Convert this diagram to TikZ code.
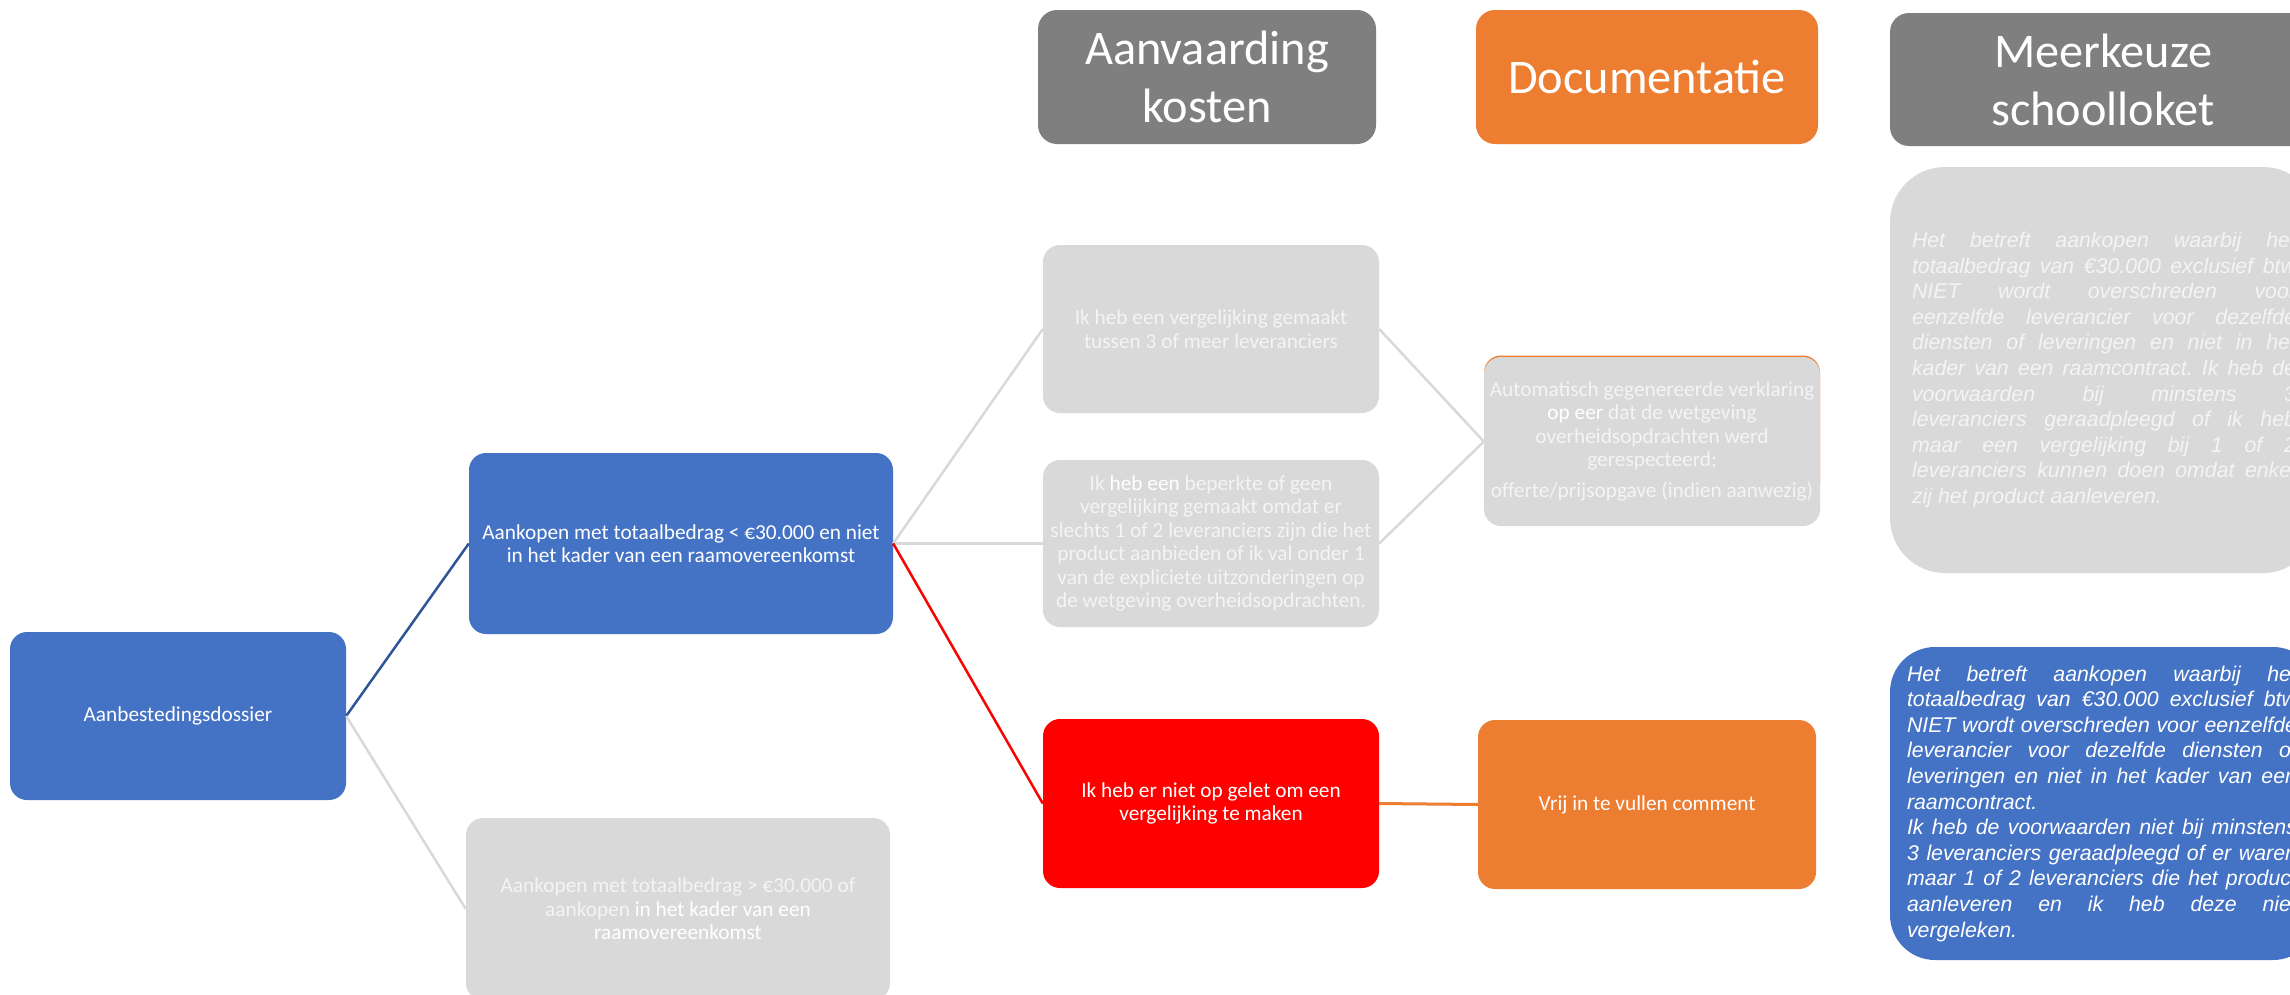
\documentclass[tikz,border=0pt]{standalone}
\usepackage{fontspec}
\setmainfont{Carlito}
\newfontfamily\arialfont{Liberation Sans}
\definecolor{cblue}{HTML}{4472C4}
\definecolor{cbluedark}{HTML}{2F5597}
\definecolor{cgreybox}{HTML}{D9D9D9}
\definecolor{chead}{HTML}{7F7F7F}
\definecolor{corange}{HTML}{ED7D31}
\definecolor{cred}{HTML}{FF0000}
\definecolor{cdim}{HTML}{F4F4F4}
\newcommand\fixsp{\spaceskip=0pt \xspaceskip=0pt }
\newcommand\brt[1]{\textcolor{white}{#1}}
\newcommand\jg[1]{\makebox[384pt][s]{\fixsp #1}\\}
\newcommand\jb[1]{\makebox[390pt][s]{\fixsp #1}\\}
\newcommand\bodyfont{\fontsize{21.3}{23.4}\selectfont\frenchspacing\hyphenpenalty=10000 }
\begin{document}
\begin{tikzpicture}[x=1pt,y=-1pt,
  box/.style={rectangle, rounded corners=17pt, inner ysep=0pt, inner xsep=-6pt,
    minimum width=336pt, minimum height=168pt, text width=348pt,
    align=flush center, text=white, font=\bodyfont},
  hdr/.style={rectangle, rounded corners=19pt, inner sep=0pt,
    minimum height=134pt, align=flush center, text=white,
    font=\fontsize{48.3}{58}\selectfont},
  rbox/.style={rectangle, inner ysep=0pt, align=flush left, text=white,
    font=\arialfont\itshape\fontsize{21.3}{25.6}\selectfont\frenchspacing},
  conn/.style={line width=2.5pt}
]
\useasboundingbox (0,0) rectangle (2290,994);
\fill[white] (0,0) rectangle (2290,994);

% headers
\node[hdr, fill=chead, minimum width=338pt, text width=338pt] (h1) at (1207,77) {\fixsp Aanvaarding\\kosten};
\node[hdr, fill=corange, minimum width=342pt, text width=342pt] (h2) at (1647,77) {\fixsp Documentatie};
\node[hdr, fill=chead, minimum width=426pt, text width=426pt, minimum height=133pt] (h3) at (2103,79.5) {\fixsp Meerkeuze\\schoolloket};

% main nodes
\node[box, fill=cblue, minimum height=168pt] (root) at (178,716) {\fixsp Aanbestedingsdossier};
\node[box, fill=cblue, minimum width=424pt, text width=436pt, minimum height=181pt] (lt) at (681,543.5)
  {\fixsp Aankopen met totaalbedrag < €30.000 en niet\\in het kader van een raamovereenkomst};
\node[box, fill=cgreybox, minimum width=424pt, text width=436pt, minimum height=182pt, text=cdim] (gt) at (678,909)
  {\fixsp Aankopen met totaalbedrag > €30.000 of\\aankopen \brt{in het kader van een}\\\brt{raamovereenkomst}};

\node[box, fill=cgreybox, text=cdim] (a1) at (1211,329)
  {\fixsp Ik heb een vergelijking gemaakt\\tussen 3 of meer leveranciers};
\node[box, fill=cgreybox, text=cdim, minimum height=167pt] (a2) at (1211,543.5)
  {\fixsp Ik \brt{heb een} beperkte of geen\\vergelijking gemaakt omdat er\\slechts 1 of 2 leveranciers zijn die het\\product aanbieden of ik val onder 1\\van de expliciete uitzonderingen op\\de wetgeving overheidsopdrachten.};
\node[box, fill=cred, minimum height=169pt] (red) at (1211,803.5)
  {\fixsp Ik heb er niet op gelet om een\\vergelijking te maken};

\fill[corange, rounded corners=17pt] (1484,355.5) rectangle (1820,500);
\node[box, fill=cgreybox, text=cdim, minimum height=169pt] (doc) at (1652,441.5)
  {\fixsp Automatisch gegenereerde verklaring\\\brt{op eer} dat de wetgeving\\overheidsopdrachten werd\\gerespecteerd;\\[7.6pt]offerte/prijsopgave (indien aanwezig)};
\node[box, fill=corange, minimum width=338pt, text width=350pt, minimum height=169pt] (vrij) at (1647,804.5)
  {\fixsp Vrij in te vullen comment};

% right boxes
\node[rbox, fill=cgreybox, rounded corners=55pt, text=cdim, minimum width=428pt, text width=384pt, inner xsep=22pt, minimum height=406pt] (r1) at (2104,370) {%
\jg{Het betreft aankopen waarbij het}
\jg{totaalbedrag van €30.000 exclusief btw}
\jg{NIET wordt overschreden voor}
\jg{eenzelfde leverancier voor dezelfde}
\jg{diensten of leveringen en niet in het}
\jg{kader van een raamcontract. Ik heb de}
\jg{voorwaarden bij minstens 3}
\jg{leveranciers geraadpleegd of ik heb}
\jg{maar een vergelijking bij 1 of 2}
\jg{leveranciers kunnen doen omdat enkel}
\makebox[384pt][l]{\fixsp zij het product aanleveren.}};
\node[rbox, fill=cblue, rounded corners=45pt, minimum width=428pt, text width=394pt, inner xsep=17pt, minimum height=313pt] (r2) at (2104,803.5) {%
\jb{Het betreft aankopen waarbij het}
\jb{totaalbedrag van €30.000 exclusief btw}
\jb{NIET wordt overschreden voor eenzelfde}
\jb{leverancier voor dezelfde diensten of}
\jb{leveringen en niet in het kader van een}
\makebox[390pt][l]{\fixsp raamcontract.}\\
\jb{Ik heb de voorwaarden niet bij minstens}
\jb{3 leveranciers geraadpleegd of er waren}
\jb{maar 1 of 2 leveranciers die het product}
\jb{aanleveren en ik heb deze niet}
\makebox[390pt][l]{\fixsp vergeleken.}};

% connectors
\draw[conn, cbluedark] (root.east) -- (lt.west);
\draw[conn, cgreybox] (root.east) -- (gt.west);
\draw[conn, cgreybox] (lt.east) -- (a1.west);
\draw[conn, cgreybox] (lt.east) -- (a2.west);
\draw[conn, cred] (lt.east) -- (red.west);
\draw[conn, cgreybox] (a1.east) -- (doc.west);
\draw[conn, cgreybox] (a2.east) -- (doc.west);
\draw[conn, corange, line width=3pt] (red.east) -- (vrij.west);
\end{tikzpicture}
\end{document}
